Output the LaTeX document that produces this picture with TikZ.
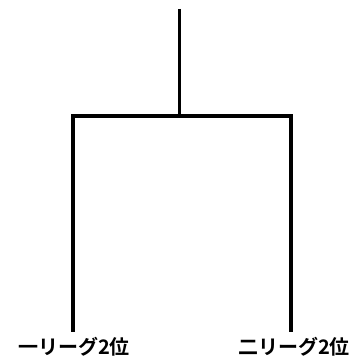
\documentclass[tikz,border=0pt]{standalone}
\usepackage{fontspec}
\newfontfamily\cjk{Noto Sans CJK JP}[BoldFont={Noto Sans CJK JP Bold}]
\begin{document}
\begin{tikzpicture}[x=1pt,y=-1pt,
  bracket/.style={line width=3.5pt},
  lbl/.style={font=\cjk\bfseries\fontsize{20}{22}\selectfont, inner sep=0pt, anchor=center}]
\useasboundingbox (0,0) rectangle (362,358);
\coordinate (top) at (179.5,9);
\coordinate (mid) at (179.5,116);
\coordinate (lc) at (73,116);
\coordinate (rc) at (291,116);
\node[lbl] (l) at (74,347) {一リーグ2位};
\node[lbl] (r) at (294,347) {二リーグ2位};
\coordinate (lb) at (73,332);
\coordinate (rb) at (291,332);
\draw[bracket] (top) -- (mid);
\draw[bracket, line join=miter] (lb) -- (lc) -- (rc) -- (rb);
\end{tikzpicture}
\end{document}
